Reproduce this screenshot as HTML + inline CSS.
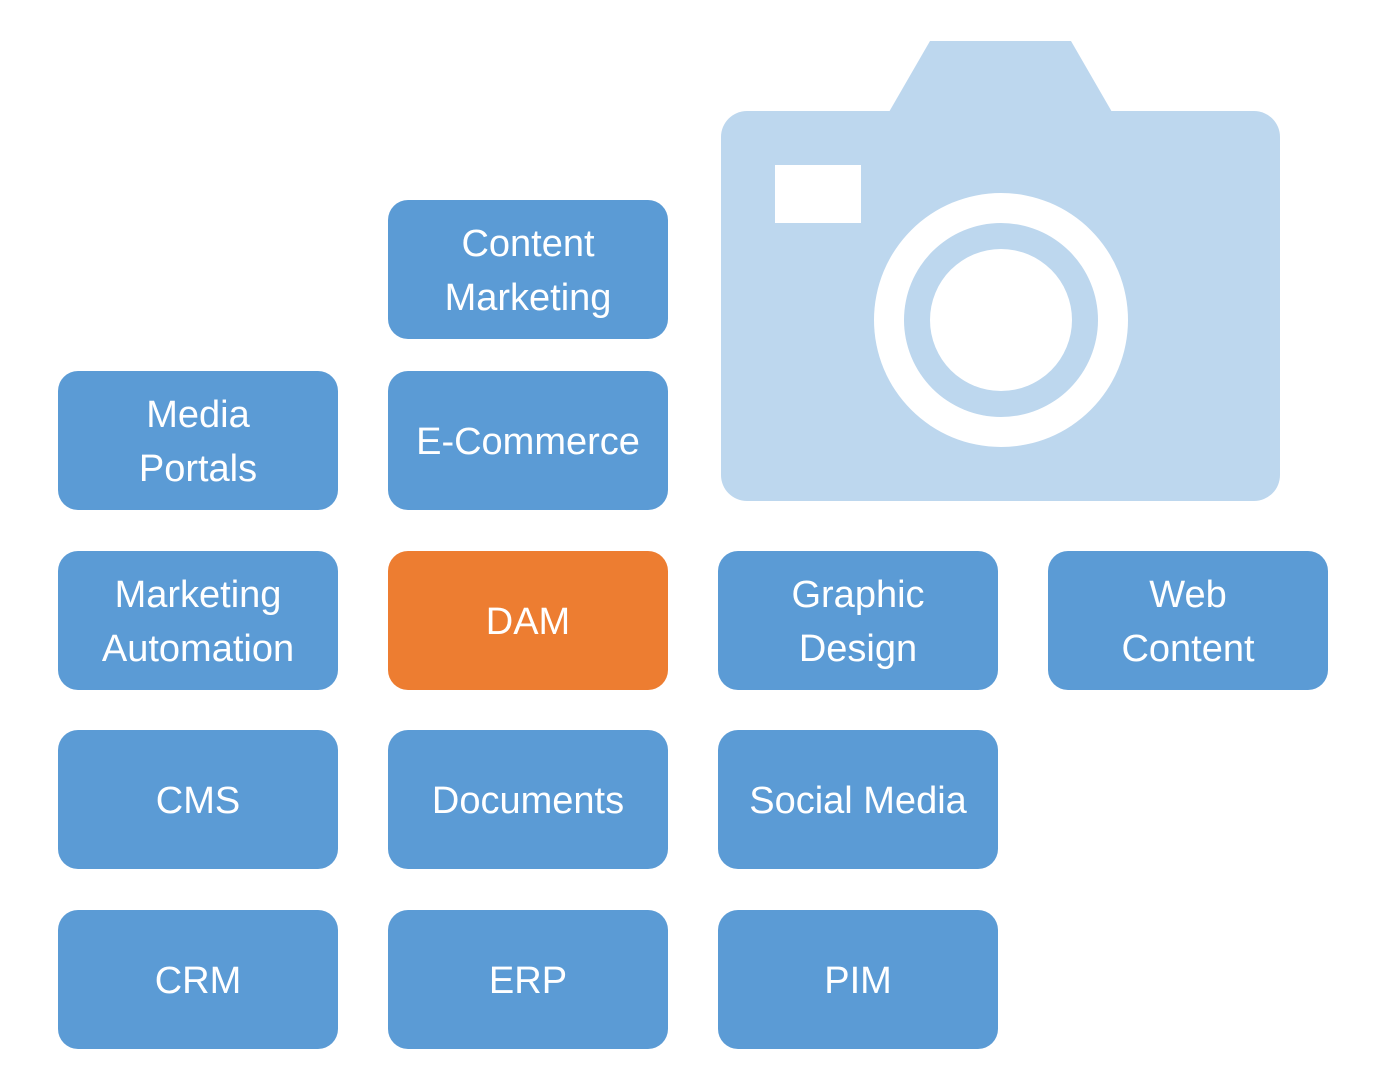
<!DOCTYPE html>
<html><head><meta charset="utf-8"><style>
html,body{margin:0;padding:0;background:#fff;}
body{width:1374px;height:1087px;position:relative;overflow:hidden;font-family:"Liberation Sans","DejaVu Sans",sans-serif;}
.b{position:absolute;width:280px;height:139px;box-sizing:border-box;padding-top:3px;border-radius:20px;background:#5B9BD5;color:#fff;display:flex;align-items:center;justify-content:center;text-align:center;font-size:38px;line-height:54px;}
.o{background:#ED7D31;}
svg{position:absolute;left:0;top:0;}
</style></head><body>
<svg width="1374" height="1087">
<polygon points="889,112 930,41 1071,41 1112,112" fill="#BDD7EE"/>
<rect x="721" y="111" width="559" height="390" rx="26" fill="#BDD7EE"/>
<rect x="775" y="165" width="86" height="58" fill="#fff"/>
<circle cx="1001" cy="320" r="127" fill="#fff"/>
<circle cx="1001" cy="320" r="97" fill="#BDD7EE"/>
<circle cx="1001" cy="320" r="71" fill="#fff"/>
</svg>
<div class="b" style="left:388px;top:200px">Content<br>Marketing</div>
<div class="b" style="left:58px;top:371px">Media<br>Portals</div>
<div class="b" style="left:388px;top:371px">E-Commerce</div>
<div class="b" style="left:58px;top:551px">Marketing<br>Automation</div>
<div class="b o" style="left:388px;top:551px">DAM</div>
<div class="b" style="left:718px;top:551px">Graphic<br>Design</div>
<div class="b" style="left:1048px;top:551px">Web<br>Content</div>
<div class="b" style="left:58px;top:730px">CMS</div>
<div class="b" style="left:388px;top:730px">Documents</div>
<div class="b" style="left:718px;top:730px">Social Media</div>
<div class="b" style="left:58px;top:910px">CRM</div>
<div class="b" style="left:388px;top:910px">ERP</div>
<div class="b" style="left:718px;top:910px">PIM</div>
</body></html>
